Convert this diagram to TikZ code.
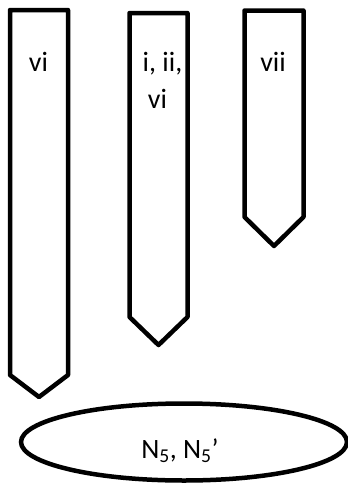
\documentclass[tikz,border=0pt]{standalone}
\usepackage{fontspec}
\setmainfont{Carlito}
\begin{document}
\begin{tikzpicture}[x=1pt,y=-1pt,
  penta/.style={draw=black, line width=4.5pt, line join=round},
  oval/.style={draw=black, line width=4.5pt},
  lbl/.style={font=\fontsize{28}{34}\selectfont, anchor=base, inner sep=0pt}]
\useasboundingbox (0,0) rectangle (348,485);
\draw[penta] (10,10) -- (68,10) -- (68,375) -- (39,397) -- (10,375) -- cycle;
\draw[penta] (129.5,13) -- (187.5,13) -- (187.5,317) -- (158.5,345) -- (129.5,317) -- cycle;
\draw[penta] (244.5,10.5) -- (303.5,10.5) -- (303.5,217) -- (274,246) -- (244.5,217) -- cycle;
\draw[oval] (184,442) ellipse [x radius=163, y radius=38.5];
\node[lbl] (t1) at (38.5,71.5) {vi};
\node[lbl] (t2a) at (162.5,71.5) {i, ii,};
\node[lbl] (t2b) at (157.5,108) {vi};
\node[lbl] (t3) at (273,71.5) {vii};
\node[lbl] (t4) at (180,458) {N\textsubscript{5}, N\textsubscript{5}’};
\end{tikzpicture}
\end{document}
